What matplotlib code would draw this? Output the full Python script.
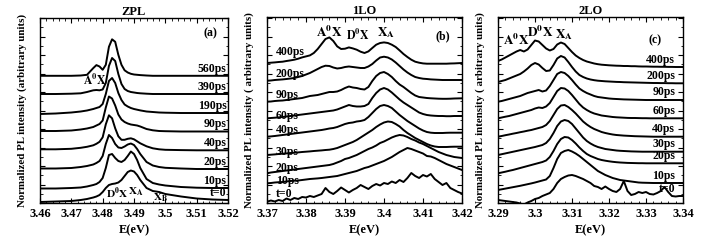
import matplotlib
matplotlib.use("Agg")
import matplotlib.pyplot as plt
from matplotlib.ticker import MultipleLocator, AutoMinorLocator, NullFormatter

plt.rcParams["font.family"] = ["Liberation Serif", "DejaVu Serif"]
plt.rcParams["font.weight"] = "bold"
plt.rcParams["mathtext.fontset"] = "stix"

# ---------------- panel (a) ZPL ----------------
zpl_energy = [3.460, 3.465, 3.470, 3.473, 3.475, 3.477, 3.478, 3.479, 3.480, 3.481,
              3.482, 3.483, 3.484, 3.485, 3.486, 3.487, 3.488, 3.489, 3.490, 3.491,
              3.492, 3.494, 3.496, 3.498, 3.500, 3.505, 3.510, 3.515, 3.520]
zpl_times = ["t=0", "10ps", "20ps", "40ps", "90ps", "190ps", "390ps", "560ps"]
zpl_offsets = [3, 15, 34, 52.7, 71.5, 90, 109, 127.2]
zpl_t0 = [-2, -1.5, -1, 0, 1, 2.5, 3.5, 5, 8, 12, 15, 16, 16.5, 17.5, 20, 24, 28, 29.5, 28.5, 25,
          20, 12, 9, 8, 6, 3.5, 1.5, 0.5, 0]
zpl_10 = [-0.5, -0.5, 0, 0.5, 1.5, 3, 4, 6, 10, 20, 33, 34, 30, 27, 26, 28, 32, 36.5, 34, 28,
          20, 9, 5, 3.5, 2.5, 1, 0.3, 0, 0]
zpl_20 = [0.5, 0.5, 1, 2, 3, 4.5, 6, 8, 13, 25, 34, 31, 25, 21.5, 21, 22.5, 24.5, 25.5, 24, 20,
          15, 7, 3.5, 2, 1.2, 0.5, 0, 0, 0]
zpl_40 = [1, 1, 1.5, 2.5, 3.5, 5, 6.5, 8.5, 13, 26, 35, 32, 22, 14, 10.5, 10.5, 11.5, 12, 11, 9,
          7, 4, 2, 1, 0.5, 0.2, 0, 0, 0]
zpl_90 = [0.5, 0.5, 1, 2, 3, 4.5, 6, 7.5, 11, 24, 35, 33, 26, 17, 12, 9.5, 8, 7, 6.5, 6,
          5, 2.5, 1.2, 0.5, 0.3, 0, 0, 0, 0]
zpl_190 = [-1, -0.5, 0.5, 1.5, 2.5, 4, 5, 6, 9, 19, 32, 35, 30, 20, 13, 8.5, 6.5, 5, 4, 3.3,
           2.6, 1.5, 1, 0.5, 0.3, 0, 0, 0, 0]
zpl_390 = [0, 0, 0.3, 0.7, 2, 3.7, 4, 3.7, 4.5, 11, 28, 36, 33, 20, 10, 5, 3, 2, 1.5, 1,
           0.7, 0.3, 0, 0, 0, 0, 0, 0, 0]
zpl_560 = [0, 0, 0, 0.3, 1, 7.7, 10.7, 9.3, 6, 11, 29, 36.5, 34, 21, 11, 5.5, 3.3, 2, 1.3, 1,
           0.7, 0.3, 0, 0, 0, 0, 0, 0, 0]
zpl_spectra = [zpl_t0, zpl_10, zpl_20, zpl_40, zpl_90, zpl_190, zpl_390, zpl_560]

# ---------------- panel (b) 1LO ----------------
lo1_energy = [round(3.370 + 0.001 * k, 3) for k in range(51)]
lo1_times = ["t=0", "10ps", "20ps", "30ps", "40ps", "60ps", "90ps", "200ps", "400ps"]
lo1_t0 = [1.3, 2.5, 1.5, 3, 2, 4.5, 3, 5, 4, 6, 5.5, 7, 6, 7.5, 9, 15, 11, 9, 12, 15.5,
          13, 10.5, 13, 15, 18, 16, 14, 17, 19, 17.5, 20, 19, 21.5, 20, 23, 21, 25, 30, 27, 25,
          28, 26.5, 29, 24, 21, 18, 20, 15, 13, 11, 9.5]
lo1_10 = [19.7, 20, 20.5, 20.8, 21, 21.5, 22, 22.3, 22.5, 23, 23.5, 24, 24.3, 24.6, 25, 25.5, 26, 26.5, 27, 28,
          29, 30, 31, 32, 33.5, 35, 36, 37.5, 39, 40.5, 42, 44, 46, 48.5, 51, 53, 55, 54, 52.5, 51,
          49.5, 47, 46.5, 45, 43, 41, 39, 37.5, 36, 34.5, 33]
lo1_20 = [29.7, 30.5, 31, 31.5, 32, 32.5, 33, 33.5, 34, 34.5, 35, 35.5, 36, 36.5, 37, 37.5, 38, 39, 40.5, 42,
          44, 45, 46.5, 48, 50, 52, 54, 55.5, 57.5, 60, 61.5, 63.5, 65.5, 67, 68, 67.5, 66, 64, 62.5, 60.5,
          59, 57, 55, 53, 51, 49.5, 48, 47, 46, 45.5, 45]
lo1_30 = [48, 48.3, 48.6, 49, 49.3, 49.6, 50, 50.3, 50.6, 51, 51.3, 51.6, 52, 52.3, 52.6, 53, 53.3, 54, 55, 56.5,
          58, 59.5, 61, 63, 65.5, 68, 70.5, 73, 76, 78.5, 80.5, 81.5, 81, 79, 76.5, 73, 70, 67.5, 65, 63,
          61, 59, 57.5, 56.5, 56, 56, 56, 56.2, 56.3, 56.3, 56.3]
lo1_40 = [66.3, 66.6, 67, 67.5, 68, 68.5, 69, 69.5, 70, 70.5, 71, 71.5, 72, 72.5, 73, 73.7, 74.5, 75, 76, 77.5,
          79, 80, 80.5, 81.5, 82, 83, 86, 90, 94, 97, 98, 97, 95, 91.5, 88, 85, 82, 79.5, 77, 74.5,
          72.5, 71, 70.3, 70, 70, 70, 70.2, 70.3, 70.3, 70.3, 70.3]
lo1_60 = [84.7, 85, 85.3, 85.6, 86, 86.5, 87, 87.5, 88, 88.5, 89, 89.5, 90, 90.5, 91, 91.5, 92, 92.5, 93.5, 95,
          96.5, 98, 97, 96.5, 96.5, 97, 99, 105, 110, 113.5, 115, 113.5, 110.5, 107, 103.5, 100.5, 98, 95.5, 93, 90.5,
          89, 88, 87.5, 87.2, 87, 87, 86.8, 86.8, 87, 87, 87]
lo1_90 = [101.3, 101.5, 102, 102.3, 102.5, 103, 103.5, 104, 104.5, 105, 106, 107, 107.5, 108, 109, 110, 111, 111, 111.5, 113,
          115, 116.5, 115.5, 115, 114, 113.5, 116, 122, 127, 130, 131, 129, 126, 122, 118.5, 116, 113, 110, 107.5, 106,
          105.5, 105, 104.7, 104.5, 104.3, 104.2, 104.2, 104.3, 104.5, 104.6, 104.7]
lo1_200 = [122.3, 122.5, 123, 123.3, 123.6, 124, 124.5, 125, 126, 127, 128.5, 130, 132, 134, 136, 137.3, 137, 135.5, 134.5, 135,
           136, 136.5, 136, 135.5, 135, 135, 136.5, 139, 142.5, 145.5, 146.3, 145.5, 143.5, 140.5, 137, 133.5, 130.5, 128, 126, 125,
           124.3, 124, 123.6, 123.4, 123.2, 123, 123, 123, 123, 123, 123]
lo1_400 = [140.0, 140.3, 140.6, 141.0, 141.3, 142.0, 142.6, 143.3, 144.3, 145.6, 146.6, 147.6, 150.0, 154.0, 159.0, 164.0, 165.6, 162.0, 156.6, 154.0,
           154.3, 155.6, 154.6, 153.3, 151.3, 150.0, 151.6, 155.0, 158.3, 160.0, 160.6, 160.0, 158.3, 156.0, 152.6, 149.0, 146.0, 143.3, 141.3, 140.3,
           139.6, 139.3, 139.3, 139.3, 139.3, 139.3, 139.3, 139.5, 139.6, 139.8, 140.0]
lo1_spectra = [lo1_t0, lo1_10, lo1_20, lo1_30, lo1_40, lo1_60, lo1_90, lo1_200, lo1_400]

# ---------------- panel (c) 2LO ----------------
lo2_energy = [round(3.290 + 0.001 * k, 3) for k in range(51)]
lo2_times = ["t=0", "10ps", "20ps", "30ps", "40ps", "60ps", "90ps", "200ps", "400ps"]
lo2_t0 = [3, 2.5, 2, 1.5, 1, 0.5, -0.5, -1.5, 0.5, 2, 4, 5, 7, 8.5, 10, 14, 20, 24, 26, 27.5,
          28, 27, 25.5, 24, 22, 20, 17, 16, 14, 16.5, 14, 12, 11, 14, 22, 12, 8, 9, 11, 10,
          11, 9, 8.5, 10, 12, 16, 11, 7, 6.5, 7, 7]
lo2_10 = [13, 13.7, 14.4, 15.1, 15.8, 16.5, 17.2, 18, 18.8, 19.6, 20.5, 21.5, 22.5, 23.5, 27, 35, 44, 50, 52, 53,
          51.5, 49.5, 47, 44, 41, 38, 35, 32, 30, 28, 26.5, 25, 24, 23, 22.5, 22, 21.5, 21, 20.5, 20.3,
          20.2, 20.1, 20, 20, 20, 20, 20, 20, 20, 20, 20]
lo2_20 = [29.7, 30.5, 31.3, 32.2, 33, 34, 35, 36, 37, 38, 39, 40, 41, 42.5, 46, 52, 59, 64, 66, 65.5,
          63, 59.5, 55.5, 52, 49, 47, 45.5, 44, 43, 42.3, 41.7, 41.2, 40.8, 40.5, 40.3, 40.1, 40, 39.9, 39.8, 39.8,
          39.7, 39.7, 39.7, 39.7, 39.7, 39.7, 39.7, 39.7, 39.7, 39.7, 39.7]
lo2_30 = [48, 48.8, 49.6, 50.4, 51.2, 52, 52.8, 53.6, 54.4, 55.2, 56, 57, 58, 60, 64, 70, 77, 81.5, 83, 82,
          79, 74.5, 70, 65.5, 62, 59.5, 57.5, 56, 55, 54, 53.5, 53, 52.5, 52.2, 52, 51.8, 51.6, 51.5, 51.4, 51.3,
          51.3, 51.3, 51.3, 51.3, 51.3, 51.3, 51.3, 51.3, 51.3, 51.3, 51.3]
lo2_40 = [66.3, 67, 67.8, 68.5, 69.3, 70, 70.8, 71.5, 72.3, 73, 74, 75, 76, 78, 82, 88, 94, 97.5, 98, 96,
          93, 89.5, 85.5, 81.5, 78.5, 76, 74, 72.5, 71, 70, 69.2, 68.5, 68, 67.7, 67.4, 67.2, 67, 66.8, 66.7, 66.6,
          66.5, 66.4, 66.3, 66.3, 66.3, 66.3, 66.3, 66.3, 66.3, 66.3, 66.3]
lo2_60 = [84.7, 85.5, 86.3, 87, 88, 89, 90, 91, 92, 93, 94.5, 95.5, 95, 96.5, 100, 106, 112, 115, 114.5, 112,
          108, 103.5, 99, 95.5, 93, 91, 89.5, 88.5, 87.5, 87, 86.5, 86, 85.7, 85.5, 85.3, 85.1, 85, 85, 84.9, 84.8,
          84.8, 84.7, 84.7, 84.7, 84.7, 84.7, 84.7, 84.7, 84.7, 84.7, 84.7]
lo2_90 = [101.3, 102, 103, 104, 105, 106, 107, 108.5, 110, 111, 112, 113, 111.5, 112.5, 117, 123, 129, 131, 130, 127,
          123, 118.5, 114.5, 112, 110, 108.5, 107, 106, 105.5, 105, 104.5, 104.2, 104, 103.8, 103.6, 103.5, 103.4, 103.3, 103.2, 103.1,
          103, 103, 103, 103, 103, 103, 103, 103, 103, 103, 103]
lo2_200 = [121, 122, 123, 124.5, 126, 127.5, 129, 131.5, 134.5, 138, 140, 138.5, 135, 132, 132.5, 138, 144.5, 147, 145.5, 141,
           136, 131.5, 128, 126, 124.5, 123.5, 122.8, 122.3, 122, 121.7, 121.5, 121.3, 121.1, 121, 120.8, 120.7, 120.6, 120.5, 120.4, 120.3,
           120.2, 120.1, 120, 120, 119.9, 119.9, 119.8, 119.8, 119.7, 119.7, 119.7]
lo2_400 = [142, 143.5, 145.5, 147.5, 149.5, 151.5, 153, 151.5, 153.5, 158, 162.5, 161.5, 158, 154.5, 152.5, 154, 158.5, 160.5, 159, 155,
           151, 147.5, 145, 143, 141.5, 140.5, 139.5, 138.8, 138.3, 138, 137.7, 137.5, 137.3, 137.2, 137, 137, 136.8, 136.8, 136.6, 136.5,
           136.5, 136.4, 136.3, 136.3, 136.2, 136.2, 136.1, 136.1, 136, 136, 136]
lo2_spectra = [lo2_t0, lo2_10, lo2_20, lo2_30, lo2_40, lo2_60, lo2_90, lo2_200, lo2_400]

BOLD = dict(fontweight="bold")


def style_axes(ax, xlim, ylim):
    ax.set_xlim(*xlim)
    ax.set_ylim(*ylim)
    ax.xaxis.set_major_locator(MultipleLocator(0.01))
    ax.xaxis.set_minor_locator(AutoMinorLocator(5))
    ax.yaxis.set_major_locator(MultipleLocator(18.5))
    ax.yaxis.set_minor_locator(AutoMinorLocator(2))
    ax.yaxis.set_major_formatter(NullFormatter())
    ax.xaxis.set_major_formatter(lambda v, p: f"{v:g}")
    ax.tick_params(which="both", direction="in", top=True, right=True, labelsize=9)
    ax.tick_params(which="major", length=3.5, width=0.8)
    ax.tick_params(which="minor", length=1.8, width=0.6)
    for t in ax.get_xticklabels():
        t.set_fontweight("bold")
    ax.set_xlabel("E(eV)", fontsize=9, labelpad=3, **BOLD)
    for s in ax.spines.values():
        s.set_linewidth(1.0)


fig = plt.figure(figsize=(7.11, 2.42), dpi=100)
lw = 1.4

# (a)
ax1 = fig.add_axes([40 / 711, 39 / 242, 188 / 711, 185 / 242])
for lab, off, spec in zip(zpl_times, zpl_offsets, zpl_spectra):
    y = [off + v for v in spec]
    ax1.plot(zpl_energy, y, color="black", lw=lw)
    ax1.text(3.5195, y[-1] + 1.2, lab, ha="right", va="bottom", fontsize=8.5, **BOLD)
style_axes(ax1, (3.46, 3.52), (0, 185))
ax1.set_title("ZPL", fontsize=9, pad=2, **BOLD)
ax1.set_ylabel("Normalized PL intensity (arbitrary units)", fontsize=7.8, labelpad=6, **BOLD)
ax1.text(3.4776, 123, r"$\mathbf{A^0X}$", ha="center", va="center", fontsize=8.5)
ax1.text(3.4845, 10, r"$\mathbf{D^0X}$", ha="center", va="center", fontsize=8)
ax1.text(3.4907, 11.5, r"$\mathbf{X_A}$", ha="center", va="center", fontsize=8)
ax1.text(3.4983, 5, r"$\mathbf{X_B}$", ha="center", va="center", fontsize=8)
ax1.text(3.5145, 170, "(a)", ha="center", va="center", fontsize=8.5, **BOLD)

# (b)
ax2 = fig.add_axes([267 / 711, 39 / 242, 195 / 711, 186 / 242])
lo1_label_y = [9, 22.3, 34.7, 51.3, 73, 87, 108, 129, 151.3]
for lab, ly, spec in zip(lo1_times, lo1_label_y, lo1_spectra):
    ax2.plot(lo1_energy, spec, color="black", lw=lw)
    ax2.text(3.3722, ly, lab, ha="left", va="center", fontsize=8.5, **BOLD)
style_axes(ax2, (3.37, 3.42), (0, 186))
ax2.set_title("1LO", fontsize=9, pad=2, **BOLD)
ax2.set_ylabel("Normalized PL intensity ( arbitrary units)", fontsize=7.8, labelpad=6, **BOLD)
ax2.text(3.3860, 171, r"$\mathbf{A^0X}$", ha="center", va="center", fontsize=9.5)
ax2.text(3.3933, 168, r"$\mathbf{D^0X}$", ha="center", va="center", fontsize=8.5)
ax2.text(3.4005, 170, r"$\mathbf{X_A}$", ha="center", va="center", fontsize=9.5)
ax2.text(3.4152, 167, "(b)", ha="center", va="center", fontsize=8.5, **BOLD)

# (c)
ax3 = fig.add_axes([498 / 711, 39 / 242, 185 / 711, 186 / 242])
for lab, spec in zip(lo2_times, lo2_spectra):
    ax3.plot(lo2_energy, spec, color="black", lw=lw)
    ax3.text(3.3379, spec[-1] + 1.5, lab, ha="right", va="bottom", fontsize=8.5, **BOLD)
style_axes(ax3, (3.29, 3.34), (0, 186))
ax3.set_title("2LO", fontsize=9, pad=2, **BOLD)
ax3.set_ylabel("Normalized PL intensity ( arbitrary units)", fontsize=7.8, labelpad=6, **BOLD)
ax3.text(3.2948, 163, r"$\mathbf{A^0X}$", ha="center", va="center", fontsize=9.5)
ax3.text(3.3013, 171, r"$\mathbf{D^0X}$", ha="center", va="center", fontsize=9.5)
ax3.text(3.3078, 168, r"$\mathbf{X_A}$", ha="center", va="center", fontsize=9.5)
ax3.text(3.3324, 163, "(c)", ha="center", va="center", fontsize=8.5, **BOLD)

fig.savefig("out.png", dpi=100)
